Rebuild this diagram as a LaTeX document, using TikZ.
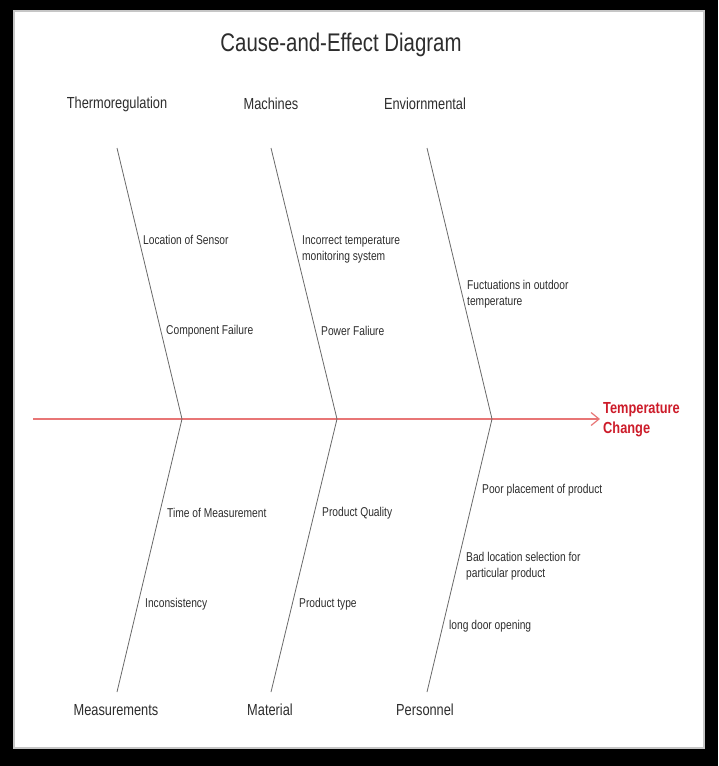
\documentclass[tikz,border=0pt]{standalone}
\usepackage{fontspec}
\setmainfont[FakeStretch=0.8]{Liberation Sans}
\usetikzlibrary{arrows.meta}
\definecolor{spinered}{RGB}{232,118,118}
\definecolor{labelred}{RGB}{205,28,42}
\definecolor{bonegray}{RGB}{105,105,105}
\definecolor{textgray}{RGB}{45,45,45}

\begin{document}
\begin{tikzpicture}[x=1pt,y=-1pt,
  cause/.style={anchor=west,align=left,inner sep=0pt,text=textgray,font=\fontsize{12.8}{16}\selectfont},
  category/.style={inner sep=0pt,text=textgray,font=\fontsize{16}{18}\selectfont},
  bone/.style={bonegray,line width=0.8pt},
  spine/.style={spinered,line width=1.2pt,-{Straight Barb[length=8pt,width=13pt]}}]
% frame
\fill[black] (0,0) rectangle (718,766);
\fill[white] (14,11) rectangle (704,748);
\draw[gray!45,line width=1.5pt] (14,11) rectangle (704,748);
\node[text=textgray,font=\fontsize{25.5}{28}\selectfont] (title) at (341,45) {Cause-and-Effect Diagram};

% spine and effect
\coordinate (tail) at (33,419);
\node[anchor=west,align=left,inner sep=3pt,text=labelred,font=\bfseries\fontsize{16}{20}\selectfont] (effect) at (600,420) {Temperature\\Change};
\draw[spine] (tail) -- (effect.west |- tail);

% bones
\coordinate (j1) at (182,419);
\coordinate (j2) at (337,419);
\coordinate (j3) at (492,419);
\coordinate (u1) at (117,148);
\coordinate (u2) at (271,148);
\coordinate (u3) at (427,148);
\coordinate (d1) at (117,692);
\coordinate (d2) at (271,692);
\coordinate (d3) at (427,692);
\draw[bone] (u1) -- (j1) -- (d1);
\draw[bone] (u2) -- (j2) -- (d2);
\draw[bone] (u3) -- (j3) -- (d3);

% categories
\node[category] (thermo) at (117,104) {Thermoregulation};
\node[category] (mach) at (271,104) {Machines};
\node[category] (env) at (425,104) {Enviornmental};
\node[category] (meas) at (116,710) {Measurements};
\node[category] (mat) at (270,710) {Material};
\node[category] (pers) at (425,710) {Personnel};

% causes
\node[cause] (sensor) at (143,240) {Location of Sensor};
\node[cause] (compfail) at (166,331) {Component Failure};
\node[cause] (monitor) at (302,249) {Incorrect temperature\\monitoring system};
\node[cause] (power) at (321,331) {Power Faliure};
\node[cause] (outdoor) at (467,294) {Fuctuations in outdoor\\temperature};
\node[cause] (timemeas) at (167,513) {Time of Measurement};
\node[cause] (incons) at (145,604) {Inconsistency};
\node[cause] (quality) at (322,513) {Product Quality};
\node[cause] (ptype) at (299,604) {Product type};
\node[cause] (placement) at (482,490) {Poor placement of product};
\node[cause] (badloc) at (466,566) {Bad location selection for\\particular product};
\node[cause] (door) at (449,626) {long door opening};
\end{tikzpicture}
\end{document}
